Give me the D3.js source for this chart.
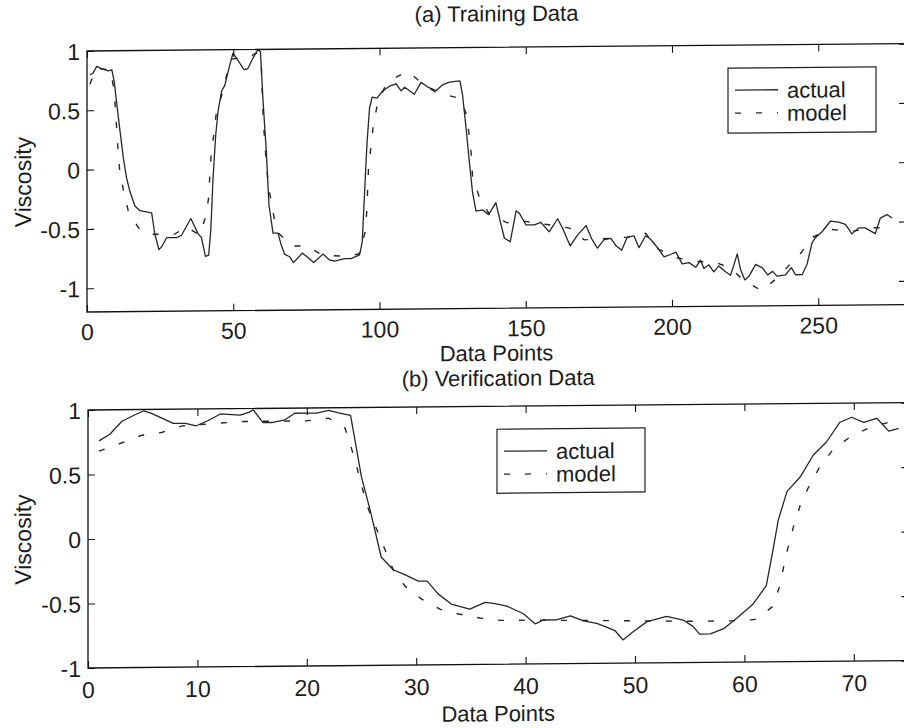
<!DOCTYPE html>
<html>
<head>
<meta charset="utf-8">
<script src="https://cdn.jsdelivr.net/npm/d3@7/dist/d3.min.js"></script>
<style>
  body { margin: 0; background: #fff; }
  svg text { font-family: "Liberation Sans", Arial, Helvetica, sans-serif; fill: #1c1c1c; }
</style>
</head>
<body>
<div id="chart"></div>
<script>
// ---- data ----
// (a) training data: [data point, viscosity]
const trainActual = [[1,0.80],[2,0.81],[3.3,0.87],[5,0.85],[7.3,0.83],[8.5,0.84],[9.3,0.74],[10.1,0.57],[11.3,0.32],[12.4,0.10],[13.5,-0.07],[14.7,-0.19],[16.4,-0.31],[18.1,-0.35],[22.1,-0.37],[23.2,-0.55],[24.6,-0.68],[25.7,-0.65],[27.2,-0.58],[30.6,-0.58],[32.3,-0.56],[35.5,-0.42],[38,-0.55],[39.1,-0.58],[40.5,-0.74],[41.6,-0.73],[42.3,-0.53],[43.1,-0.08],[44,0.28],[44.8,0.48],[46,0.65],[47.1,0.70],[48.8,0.87],[49.9,0.97],[51.6,0.91],[53.7,0.83],[55,0.84],[56.8,0.93],[58.5,1.0],[59.3,0.98],[60.2,0.56],[61.3,0.14],[62.2,-0.31],[63.6,-0.55],[65.3,-0.55],[66.4,-0.65],[67.6,-0.73],[69.3,-0.75],[70.6,-0.80],[73.6,-0.72],[74.7,-0.74],[77.5,-0.80],[80.7,-0.73],[82.9,-0.78],[84.6,-0.79],[88.1,-0.77],[90.3,-0.77],[93.2,-0.74],[94.1,-0.63],[94.9,-0.21],[95.7,0.19],[96.6,0.50],[97.5,0.59],[99.1,0.58],[101.1,0.64],[103.4,0.68],[105.7,0.70],[107.4,0.64],[108.6,0.67],[111.9,0.61],[114.2,0.71],[116.5,0.67],[119.4,0.64],[121.7,0.69],[123.9,0.71],[127.5,0.72],[128.4,0.60],[129.6,0.32],[130.7,0.04],[131.8,-0.22],[133,-0.38],[135.3,-0.37],[137.3,-0.41],[139.8,-0.31],[141.3,-0.47],[142.7,-0.61],[144.7,-0.64],[146.7,-0.38],[147.8,-0.40],[150.1,-0.50],[152.9,-0.50],[155.2,-0.48],[158,-0.56],[160.9,-0.45],[162.6,-0.53],[165.2,-0.68],[167.7,-0.59],[170.6,-0.51],[172.5,-0.62],[174.5,-0.70],[176.8,-0.63],[179.1,-0.62],[180.8,-0.68],[182.8,-0.72],[184.7,-0.61],[187,-0.60],[188.7,-0.70],[191,-0.60],[192.7,-0.63],[195,-0.70],[197.3,-0.78],[199.5,-0.76],[201.3,-0.74],[203.5,-0.84],[205.8,-0.83],[208.1,-0.87],[209.8,-0.81],[210.9,-0.88],[212.6,-0.85],[214.3,-0.91],[216,-0.86],[218.3,-0.91],[220,-0.94],[221.2,-0.85],[222.3,-0.76],[223.4,-0.89],[224.9,-0.98],[226.3,-0.95],[228.6,-0.85],[230.9,-0.88],[232.7,-0.94],[234.4,-0.91],[235.9,-0.95],[238.8,-0.94],[240.8,-0.88],[242.2,-0.94],[244.5,-0.94],[246.2,-0.85],[247.9,-0.67],[249,-0.63],[251.3,-0.58],[254.2,-0.49],[257,-0.50],[259.3,-0.52],[261.5,-0.60],[263.8,-0.55],[266,-0.55],[269.5,-0.60],[271.2,-0.47],[273.5,-0.44],[275.2,-0.47]];
const trainModel = [[1,0.72],[3,0.85],[8,0.84],[9.3,0.66],[10,0.40],[10.6,0.17],[11.2,-0.02],[12.4,-0.17],[14.1,-0.35],[17.5,-0.49],[19,-0.53],[22,-0.55],[30,-0.55],[34,-0.49],[38.5,-0.56],[40.8,-0.39],[41.6,-0.24],[42,-0.06],[42.5,0.14],[43.5,0.31],[44.3,0.49],[46,0.61],[48.2,0.83],[49.3,0.92],[52,0.93],[55,0.93],[57.8,0.97],[59.5,0.93],[60.2,0.45],[60.8,0.20],[62,-0.15],[64.2,-0.45],[65.5,-0.55],[67.6,-0.60],[70,-0.66],[75,-0.66],[80.7,-0.74],[88.7,-0.75],[93,-0.73],[95.2,-0.54],[95.7,-0.35],[96,-0.15],[96.3,0.02],[97.2,0.19],[97.9,0.36],[99.4,0.54],[102.3,0.70],[106,0.76],[108.5,0.79],[110,0.80],[114.5,0.70],[119,0.63],[126.2,0.58],[127.5,0.57],[129.4,0.46],[130.7,0.26],[131.4,0.09],[131.8,-0.09],[134.1,-0.26],[137.6,-0.41],[143.7,-0.48],[150,-0.47],[158,-0.50],[165,-0.53],[170,-0.63],[178,-0.62],[185,-0.61],[191,-0.58],[195,-0.71],[202,-0.79],[208,-0.82],[215,-0.83],[220,-0.88],[224.8,-0.99],[230.6,-1.07],[235.8,-0.97],[240.4,-0.85],[244,-0.76],[247.7,-0.63],[254,-0.56],[261.6,-0.58],[268,-0.55],[275,-0.55]];

// (b) verification data
const verifyActual = [[1,0.76],[2,0.81],[3.1,0.91],[4.3,0.96],[5.1,0.99],[5.8,0.97],[7.8,0.89],[8.9,0.89],[9.9,0.87],[11,0.91],[12.1,0.96],[13.9,0.95],[14.7,0.97],[15.1,0.99],[16,0.89],[16.8,0.89],[18,0.91],[18.9,0.96],[20,0.96],[20.9,0.96],[22,0.98],[22.9,0.96],[24,0.94],[25,0.46],[25.8,0.20],[26.8,-0.16],[27.9,-0.26],[29,-0.30],[30.2,-0.35],[31,-0.35],[32,-0.45],[33.2,-0.53],[34.9,-0.57],[36.3,-0.52],[37.2,-0.53],[38.3,-0.55],[39.8,-0.61],[40.9,-0.69],[41.6,-0.66],[42.8,-0.66],[44.1,-0.63],[45.3,-0.67],[46.5,-0.69],[47.4,-0.72],[48.2,-0.75],[48.9,-0.82],[49.8,-0.76],[51.1,-0.68],[52.9,-0.64],[54.4,-0.67],[55.3,-0.72],[55.9,-0.78],[56.9,-0.78],[58.1,-0.74],[59.3,-0.66],[60.8,-0.55],[62,-0.41],[62.6,-0.14],[63.1,0.10],[63.9,0.32],[65.1,0.43],[66.3,0.60],[67.5,0.70],[68.7,0.85],[69.8,0.89],[70.9,0.85],[72.1,0.88],[73.2,0.78],[74.1,0.80]];
const verifyModel = [[1,0.68],[3,0.74],[4.9,0.80],[6.7,0.82],[8.6,0.87],[12.2,0.89],[14.2,0.90],[20,0.90],[22,0.92],[23.5,0.84],[24.1,0.68],[24.6,0.53],[25,0.40],[25.5,0.24],[27.9,-0.26],[29,-0.39],[30.5,-0.49],[32.2,-0.57],[34,-0.61],[35.8,-0.64],[37.7,-0.66],[40,-0.66],[48,-0.67],[55,-0.68],[59.3,-0.68],[61.1,-0.67],[62.6,-0.57],[63.2,-0.42],[63.6,-0.26],[64,-0.11],[64.5,0.05],[65.1,0.21],[65.8,0.34],[66.9,0.51],[68.1,0.64],[69.7,0.74],[71.5,0.81],[73.3,0.85],[74.2,0.85]];

const trainTicks = [0, 50, 100, 150, 200, 250];
const verifyTicks = [0, 10, 20, 30, 40, 50, 60, 70];
const viscTicks = [-1, -0.5, 0, 0.5, 1];
const seriesNames = ["actual", "model"];

// ---- layout ----
const W = 904, H = 728;
const FONT = 23;
const TICK = 7;
const DASH = "6,15";

const svg = d3.select("#chart").append("svg")
    .attr("width", W)
    .attr("height", H);

svg.append("rect").attr("width", W).attr("height", H).attr("fill", "#fff");

// the scanned page is slightly sheared, horizontal lines drop about 0.5 deg to the left
const root = svg.append("g")
    .attr("transform", "translate(0,0.79) skewY(-0.52)");

const panels = [
    {
        id: "a", title: "(a) Training Data", titleY: 25,
        left: 87, right: 906, top: 51, bottom: 312,
        xDomain: [0, 280], yDomain: [-1.2, 1], xTicks: trainTicks,
        tickLabelY: 340, xLabelY: 364.5,
        actual: trainActual, model: trainModel,
        legend: {x: 728, y: 74, w: 148, h: 65}
    },
    {
        id: "b", title: "(b) Verification Data", titleY: 389.5,
        left: 88, right: 908.5, top: 410, bottom: 668,
        xDomain: [0, 75], yDomain: [-1, 1], xTicks: verifyTicks,
        tickLabelY: 698, xLabelY: 725,
        actual: verifyActual, model: verifyModel,
        legend: {x: 497, y: 433, w: 148, h: 64}
    }
];

const fmt = d => String(d);

panels.forEach(p => {
    const x = d3.scaleLinear().domain(p.xDomain).range([p.left, p.right]);
    const y = d3.scaleLinear().domain(p.yDomain).range([p.bottom, p.top]);
    const cx = (p.left + p.right) / 2;

    root.append("clipPath").attr("id", "clip-" + p.id)
        .append("rect")
        .attr("x", p.left).attr("y", p.top)
        .attr("width", p.right - p.left).attr("height", p.bottom - p.top);

    // lines
    const line = d3.line().x(d => x(d[0])).y(d => y(d[1]));
    const plot = root.append("g").attr("clip-path", `url(#clip-${p.id})`);
    plot.append("path")
        .datum(p.actual)
        .attr("d", line)
        .attr("fill", "none")
        .attr("stroke", "#262626")
        .attr("stroke-width", 1.3)
        .attr("stroke-linejoin", "round");
    plot.append("path")
        .datum(p.model)
        .attr("d", line)
        .attr("fill", "none")
        .attr("stroke", "#262626")
        .attr("stroke-width", 1.4)
        .attr("stroke-dasharray", DASH);

    // axes, ticks point inward on all four sides
    const bottomAxis = root.append("g")
        .attr("transform", `translate(0,${p.bottom})`)
        .call(d3.axisBottom(x).tickValues(p.xTicks).tickSize(-TICK).tickSizeOuter(0).tickFormat(fmt));
    bottomAxis.selectAll("text")
        .attr("y", p.tickLabelY - p.bottom)
        .attr("dy", null);

    root.append("g")
        .attr("transform", `translate(0,${p.top})`)
        .call(d3.axisTop(x).tickValues(p.xTicks).tickSize(-TICK).tickSizeOuter(0).tickFormat(""));

    const leftAxis = root.append("g")
        .attr("transform", `translate(${p.left},0)`)
        .call(d3.axisLeft(y).tickValues(viscTicks).tickSize(-TICK).tickSizeOuter(0).tickFormat(fmt));
    leftAxis.selectAll("text")
        .attr("x", -7)
        .attr("dy", "0.36em");

    root.append("g")
        .attr("transform", `translate(${p.right},0)`)
        .call(d3.axisRight(y).tickValues(viscTicks).tickSize(-TICK).tickSizeOuter(0).tickFormat(""));

    root.selectAll(".domain").remove();
    root.selectAll(".tick line").attr("stroke", "#111").attr("stroke-width", 1.1);
    root.selectAll(".tick text")
        .attr("font-size", FONT)
        .attr("font-family", "Liberation Sans, Arial, sans-serif")
        .attr("fill", "#1c1c1c");

    // frame
    root.append("rect")
        .attr("x", p.left).attr("y", p.top)
        .attr("width", p.right - p.left).attr("height", p.bottom - p.top)
        .attr("fill", "none")
        .attr("stroke", "#111")
        .attr("stroke-width", 1.3);

    // title and axis labels
    root.append("text")
        .attr("x", cx).attr("y", p.titleY)
        .attr("text-anchor", "middle")
        .attr("font-size", 22)
        .text(p.title);

    root.append("text")
        .attr("x", cx).attr("y", p.xLabelY)
        .attr("text-anchor", "middle")
        .attr("font-size", 22)
        .text("Data Points");

    root.append("text")
        .attr("transform", `translate(31,${(p.top + p.bottom) / 2}) rotate(-90)`)
        .attr("text-anchor", "middle")
        .attr("font-size", FONT)
        .text("Viscosity");

    // legend
    const lg = root.append("g").attr("transform", `translate(${p.legend.x},${p.legend.y})`);
    lg.append("rect")
        .attr("width", p.legend.w).attr("height", p.legend.h)
        .attr("fill", "#fff")
        .attr("stroke", "#222")
        .attr("stroke-width", 1.2);
    seriesNames.forEach((name, i) => {
        const ly = 22 + i * 23;
        lg.append("line")
            .attr("x1", 7).attr("x2", 50)
            .attr("y1", ly).attr("y2", ly)
            .attr("stroke", "#262626")
            .attr("stroke-width", 1.3)
            .attr("stroke-dasharray", i === 0 ? null : DASH);
        lg.append("text")
            .attr("x", 59).attr("y", ly + 8)
            .attr("font-size", 22)
            .text(name);
    });
});
</script>
</body>
</html>
